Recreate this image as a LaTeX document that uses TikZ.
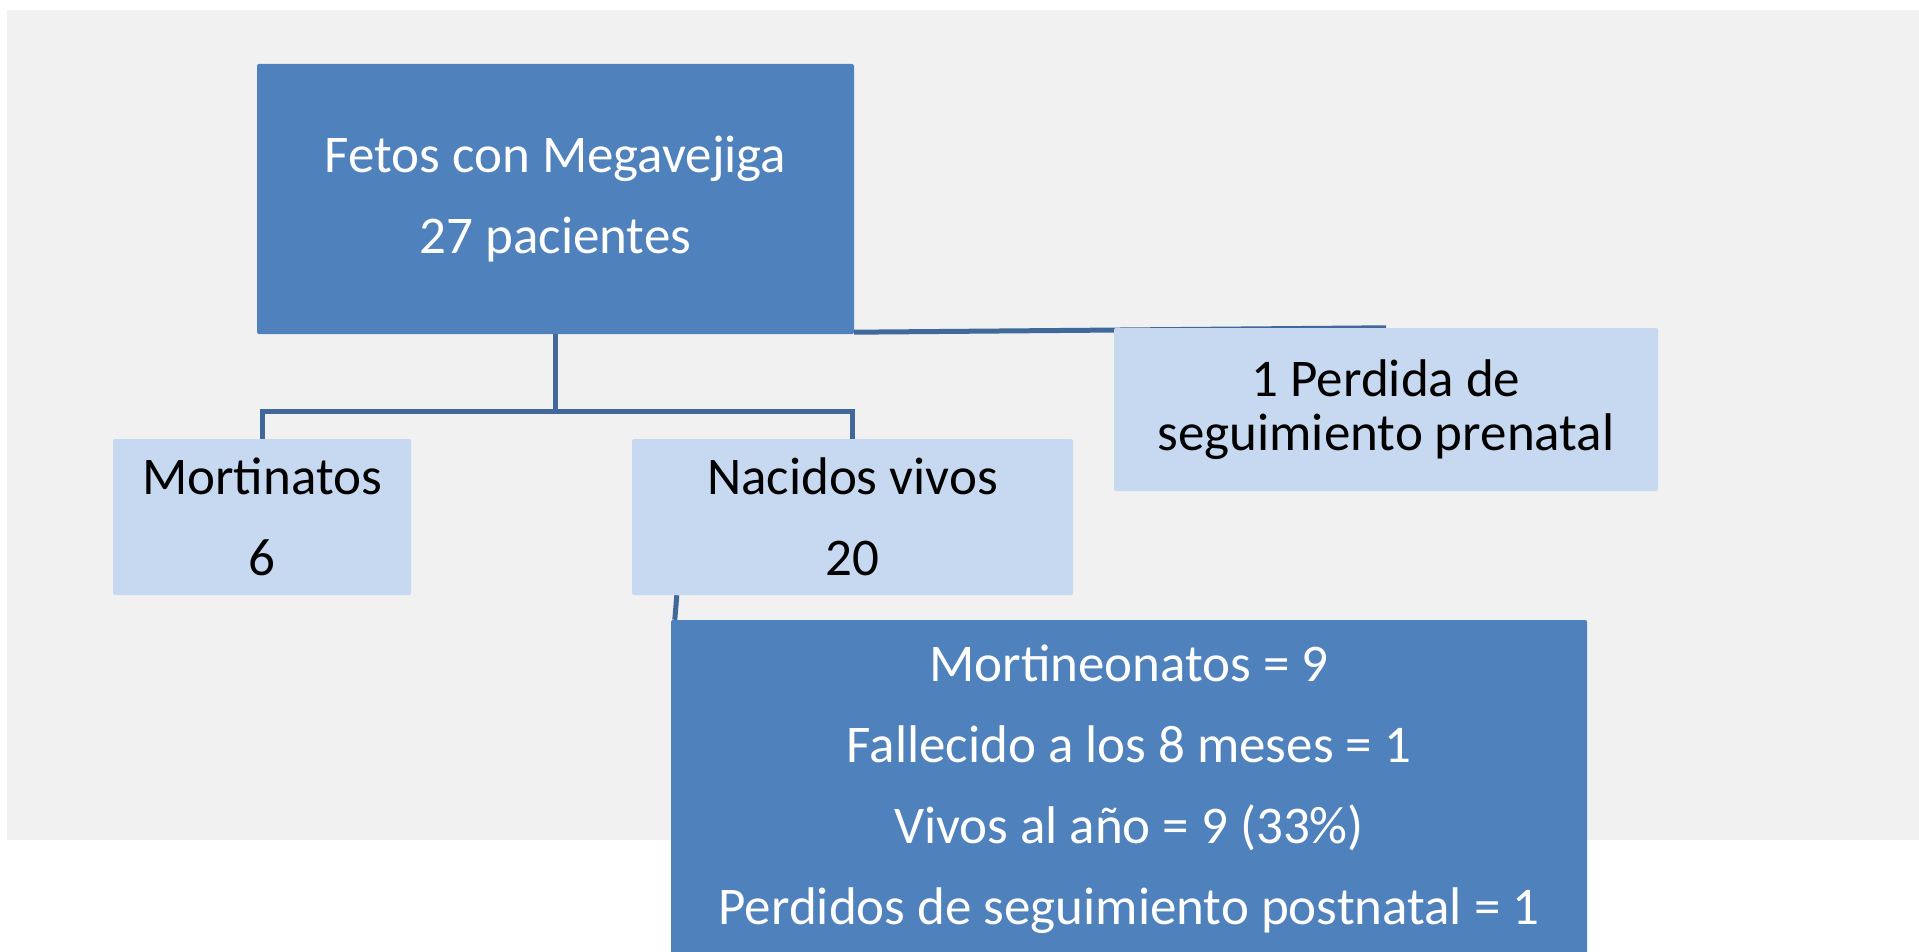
\documentclass[tikz,border=0pt]{standalone}
\usepackage{fontspec}
\setmainfont{Carlito}
\usepackage{tikz}

\definecolor{boxdark}{HTML}{4F81BD}
\definecolor{boxlight}{HTML}{C6D9F1}
\definecolor{linkblue}{HTML}{41689B}
\definecolor{backgray}{HTML}{F1F1F1}

\pgfdeclarelayer{background}
\pgfsetlayers{background,main}

\tikzset{
  darknode/.style={fill=boxdark, text=white, rounded corners=2pt, align=center,
    font=\fontsize{53}{81}\selectfont},
  lightnode/.style={fill=boxlight, text=black, rounded corners=2pt, align=center,
    font=\fontsize{53}{81}\selectfont},
  link/.style={draw=linkblue, line width=5pt}
}

\begin{document}
\begin{tikzpicture}[x=1pt, y=-1pt]

\useasboundingbox (0,0) rectangle (1919,952);

\node[darknode, minimum width=597pt, minimum height=270pt] (fetos) at (555.5,199) {Fetos con Megavejiga\\27 pacientes};

\node[lightnode, minimum width=298pt, minimum height=156pt] (mortinatos) at (262,517) {Mortinatos\\6};
\node[lightnode, minimum width=441pt, minimum height=156pt] (nacidos) at (852.5,517) {Nacidos vivos\\20};

\node[lightnode, minimum width=544pt, minimum height=163pt, font=\fontsize{53}{54}\selectfont] (perdida) at (1386,409.5) {1 Perdida de\\seguimiento prenatal};

\node[darknode, minimum width=916pt, minimum height=339pt] (detalle) at (1129,789.5)
  {Mortineonatos = 9\\Fallecido a los 8 meses = 1\\Vivos al año = 9 (33\%)\\Perdidos de seguimiento postnatal = 1};

\coordinate (split) at (555.5,411);

\begin{pgfonlayer}{background}
\fill[backgray] (7,10) rectangle (1919,840);
\draw[link] (fetos.south) -- (split);
\draw[link] (mortinatos.north) |- (split) -| (nacidos.north);
\draw[link] ([yshift=2pt]fetos.south east) -- (perdida.north);
\draw[link] ([xshift=45pt]nacidos.south west) -- ([xshift=4pt]detalle.north west);
\end{pgfonlayer}

\end{tikzpicture}
\end{document}
